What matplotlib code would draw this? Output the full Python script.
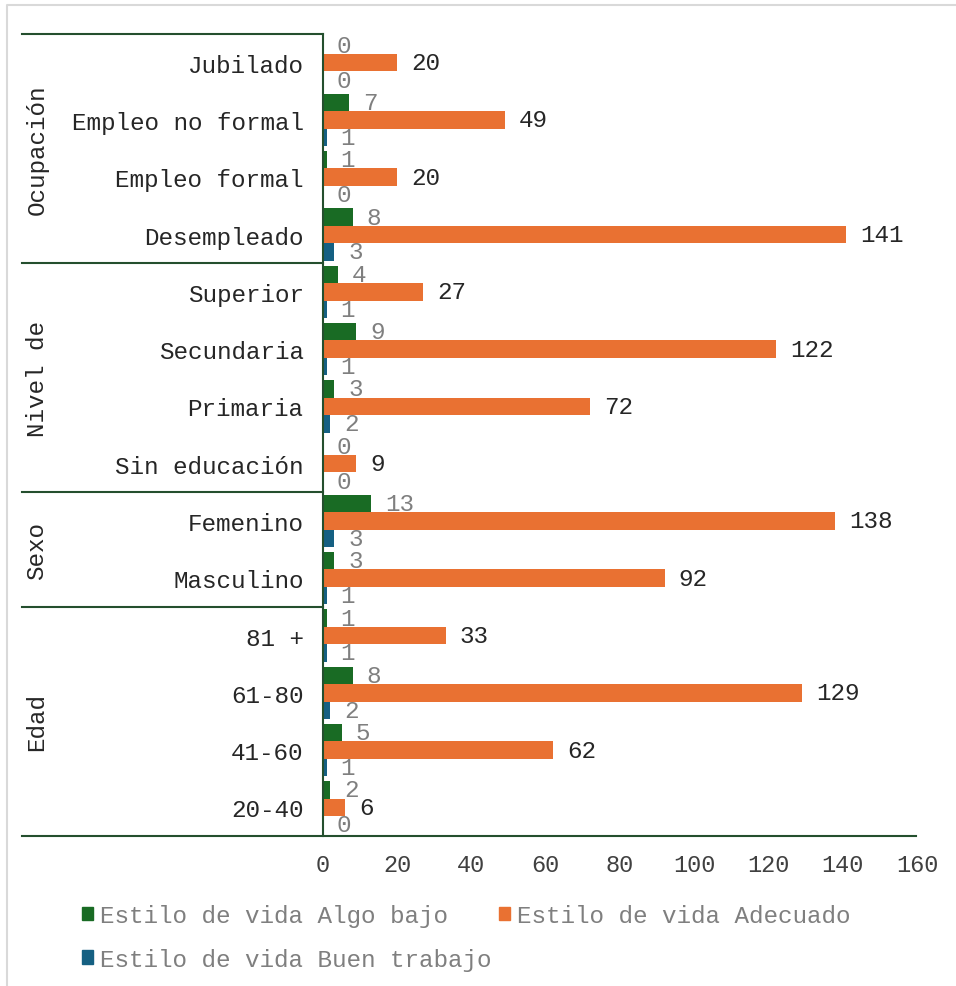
import numpy as np
import matplotlib
matplotlib.use("Agg")
import matplotlib.pyplot as plt
from matplotlib.patches import Rectangle
from matplotlib.lines import Line2D
from matplotlib.transforms import blended_transform_factory

plt.rcParams["font.family"] = ["Liberation Mono", "DejaVu Sans Mono"]

# categories listed top to bottom
categories = ["Jubilado", "Empleo no formal", "Empleo formal", "Desempleado",
              "Superior", "Secundaria", "Primaria", "Sin educación",
              "Femenino", "Masculino",
              "81 +", "61-80", "41-60", "20-40"]
algo_bajo = [0, 7, 1, 8, 4, 9, 3, 0, 13, 3, 1, 8, 5, 2]
adecuado = [20, 49, 20, 141, 27, 122, 72, 9, 138, 92, 33, 129, 62, 6]
buen_trabajo = [0, 1, 0, 3, 1, 1, 2, 0, 3, 1, 1, 2, 1, 0]
groups = ["Ocupación", "Nivel de", "Sexo", "Edad"]
group_sizes = [4, 4, 2, 4]
series_names = ["Estilo de vida Algo bajo", "Estilo de vida Adecuado",
                "Estilo de vida Buen trabajo"]

GREEN, ORANGE, BLUE = "#196B24", "#E97132", "#156082"
LINE = "#244f2e"
FS = 17.5
W, H = 956, 987

fig = plt.figure(figsize=(W / 100, H / 100), dpi=100)
ax = fig.add_axes([323 / W, 1 - 837 / H, 594 / W, (837 - 35) / H])

y = np.arange(len(categories))
bh = 0.305
series = [(algo_bajo, GREEN, -bh, "#7f7f7f"),
          (adecuado, ORANGE, 0.0, "#262626"),
          (buen_trabajo, BLUE, bh, "#7f7f7f")]
for vals, col, off, tcol in series:
    bars = ax.barh(y + off, vals, height=bh, color=col)
    for b, v in zip(bars, vals):
        ax.annotate(str(v), (v, b.get_y() + bh / 2), xytext=(10, 0),
                    textcoords="offset points", va="center", ha="left",
                    fontsize=FS, color=tcol)

ax.set_xlim(0, 160)
ax.set_ylim(len(categories) - 0.5, -0.5)
ax.set_xticks(np.arange(0, 161, 20))
ax.set_yticks(y)
ax.set_yticklabels(categories, fontsize=FS, color="#262626")
ax.tick_params(axis="y", length=0, pad=14)
ax.tick_params(axis="x", length=0, pad=12, labelsize=17, labelcolor="#404040")
for s in ["top", "right", "bottom"]:
    ax.spines[s].set_visible(False)
ax.spines["left"].set_color(LINE)
ax.spines["left"].set_linewidth(1.5)

# group separators and labels on the left
tr = blended_transform_factory(fig.transFigure, ax.transData)
edges = np.concatenate([[0], np.cumsum(group_sizes)]) - 0.5
for e in edges[:-1]:
    fig.add_artist(Line2D([22 / W, 323 / W], [e, e], transform=tr,
                          color=LINE, lw=1.5))
fig.add_artist(Line2D([22 / W, 916 / W], [edges[-1]] * 2, transform=tr,
                      color=LINE, lw=1.5))
for name, a, b in zip(groups, edges[:-1], edges[1:]):
    fig.text(37 / W, (a + b) / 2, name, transform=tr, rotation=90,
             ha="center", va="center", fontsize=FS, color="#262626")

# legend
handles = [Rectangle((0, 0), 1, 1, color=GREEN),
           Rectangle((0, 0), 1, 1, color=BLUE),
           Rectangle((0, 0), 1, 1, color=ORANGE)]
labels = [series_names[0], series_names[2], series_names[1]]
leg = fig.legend(handles, labels, loc="upper left",
                 bbox_to_anchor=(82 / W, 1 - 905 / H), ncol=2, frameon=False,
                 fontsize=FS, handlelength=0.45, handleheight=0.45,
                 handletextpad=0.3, columnspacing=0.3, labelspacing=0.85,
                 borderpad=0, borderaxespad=0)
for t in leg.get_texts():
    t.set_color("#7f7f7f")

# outer chart border (left and top edges)
fig.add_artist(Line2D([7 / W, 7 / W, 1.0], [0.0, 1 - 6 / H, 1 - 6 / H],
                      transform=fig.transFigure, color="#d9d9d9", lw=1.5))

fig.savefig("out.png", dpi=100)
